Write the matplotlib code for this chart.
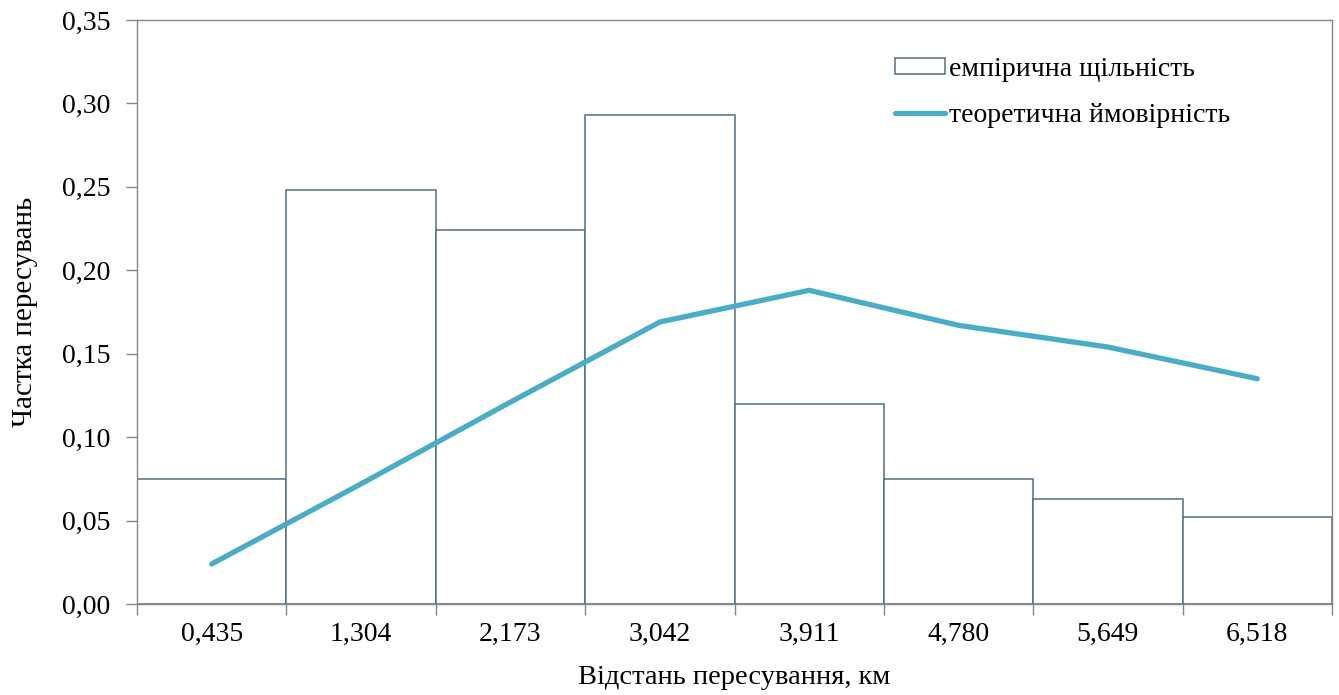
import matplotlib
matplotlib.use("Agg")
import matplotlib.pyplot as plt
import numpy as np

categories = ["0,435", "1,304", "2,173", "3,042", "3,911", "4,780", "5,649", "6,518"]
empirical = [0.075, 0.248, 0.224, 0.293, 0.120, 0.075, 0.063, 0.052]
theoretical = [0.024, 0.072, 0.121, 0.169, 0.188, 0.167, 0.154, 0.135]
y_ticks = [0.00, 0.05, 0.10, 0.15, 0.20, 0.25, 0.30, 0.35]

plt.rcParams["font.family"] = ["Liberation Serif", "DejaVu Serif"]

fig = plt.figure(figsize=(13.39, 6.95), dpi=100)
ax = fig.add_axes([137 / 1339, 1 - 604 / 695, (1332 - 137) / 1339, (604 - 20) / 695])

x = np.arange(len(categories))
bar_edge = "#4f6f86"
line_color = "#4bacc6"
spine_color = "#868686"

bars = ax.bar(x, empirical, width=1.0, facecolor="white", edgecolor=bar_edge,
              linewidth=1.1, label="емпірична щільність", zorder=2)
line, = ax.plot(x, theoretical, color=line_color, linewidth=3.8, solid_capstyle="round",
                solid_joinstyle="round", label="теоретична ймовірність", zorder=3)

ax.set_xlim(-0.5, len(categories) - 0.5)
ax.set_ylim(0, 0.35)

ax.set_xticks(x)
ax.set_xticklabels(categories, fontsize=20)
ax.set_xticks(np.arange(-0.5, len(categories)), minor=True)
ax.tick_params(axis="x", which="major", length=0, pad=13)
ax.tick_params(axis="x", which="minor", length=8, color=spine_color, width=1)

ax.set_yticks(y_ticks)
ax.set_yticklabels([f"{v:.2f}".replace(".", ",") for v in y_ticks], fontsize=20)
ax.tick_params(axis="y", length=8, color=spine_color, width=1, pad=11)

for s in ax.spines.values():
    s.set_color(spine_color)
    s.set_linewidth(1)

ax.set_xlabel("Відстань пересування, км", fontsize=20.5, labelpad=13)
ax.set_ylabel("Частка пересувань", fontsize=21, labelpad=17)

leg = ax.legend([bars, line], ["емпірична щільність", "теоретична ймовірність"],
                loc="upper left", bbox_to_anchor=(0.613, 0.98), frameon=False,
                fontsize=20, handlelength=1.8, handleheight=0.5,
                handletextpad=0.15, labelspacing=0.78)

fig.savefig("out.png", dpi=100)
